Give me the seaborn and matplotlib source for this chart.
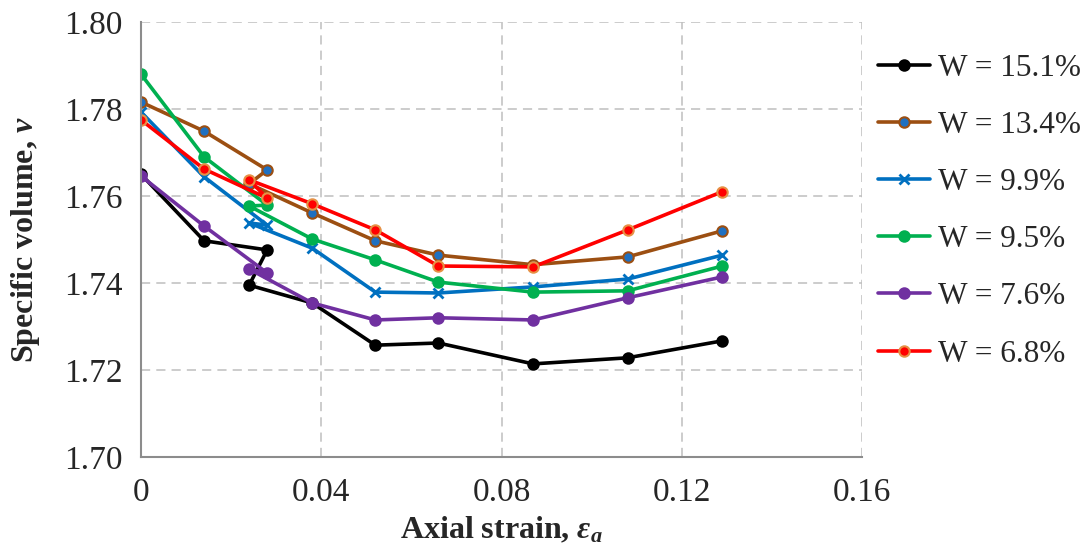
import matplotlib
matplotlib.use('Agg')
import matplotlib.pyplot as plt
import seaborn as sns
import pandas as pd

# ─── data ───────────────────────────────────────────────────────────────────
strain = [0, 0.014, 0.028, 0.024, 0.038, 0.052, 0.066, 0.087, 0.108, 0.129]

labels = ['W = 15.1%', 'W = 13.4%', 'W = 9.9%', 'W = 9.5%', 'W = 7.6%', 'W = 6.8%']

v_151 = [1.7650, 1.7497, 1.7476, 1.7395, 1.7354, 1.7257, 1.7262, 1.7214, 1.7228, 1.7267]
v_134 = [1.7816, 1.7749, 1.7660, 1.7628, 1.7561, 1.7497, 1.7464, 1.7442, 1.7460, 1.7520]
v_99  = [1.7793, 1.7644, 1.7533, 1.7538, 1.7480, 1.7379, 1.7377, 1.7391, 1.7409, 1.7464]
v_95  = [1.7880, 1.7690, 1.7579, 1.7577, 1.7501, 1.7453, 1.7402, 1.7379, 1.7382, 1.7439]
v_76  = [1.7646, 1.7531, 1.7423, 1.7432, 1.7354, 1.7315, 1.7320, 1.7315, 1.7366, 1.7414]
v_68  = [1.7775, 1.7662, 1.7595, 1.7637, 1.7582, 1.7522, 1.7439, 1.7437, 1.7522, 1.7610]

series = [v_151, v_134, v_99, v_95, v_76, v_68]

# style per series: line colour, marker, marker face, marker edge
styles = [
    ('#000000', 'o', '#000000', '#000000'),
    ('#9C4F12', 'o', '#1F70C1', '#9C4F12'),
    ('#0070C0', 'x', '#0070C0', '#0070C0'),
    ('#00B050', 'o', '#00B050', '#00B050'),
    ('#7030A0', 'o', '#7030A0', '#7030A0'),
    ('#FF0000', 'o', '#FF0000', '#E69145'),
]

df = pd.concat([pd.DataFrame({'strain': strain, 'v': s, 'W': lab, 'order': range(len(strain))})
                for s, lab in zip(series, labels)], ignore_index=True)

# ─── plot ───────────────────────────────────────────────────────────────────
sns.set_style('white')
plt.rcParams['font.family'] = ['Liberation Serif', 'DejaVu Serif']
plt.rcParams['mathtext.fontset'] = 'custom'
plt.rcParams['mathtext.rm'] = 'Liberation Serif:bold'
plt.rcParams['mathtext.it'] = 'Liberation Serif:italic:bold'
plt.rcParams['mathtext.bf'] = 'Liberation Serif:bold'

fig = plt.figure(figsize=(10.88, 5.6), dpi=100)
ax = fig.add_axes([0.1296, 0.184, 0.6627, 0.7767])

for lab, (col, mk, mfc, mec) in zip(labels, styles):
    d = df[df['W'] == lab].sort_values('order')
    sns.lineplot(data=d, x='strain', y='v', sort=False, estimator=None, ax=ax,
                 color=col, linewidth=2.6, marker=mk, markersize=7.5,
                 markerfacecolor=mfc, markeredgecolor=mec,
                 markeredgewidth=1.5 if mk == 'o' else 2.0, label=lab)

ax.set_xlim(0, 0.16)
ax.set_ylim(1.70, 1.80)
ax.set_xticks([0, 0.04, 0.08, 0.12, 0.16])
ax.set_xticklabels(['0', '0.04', '0.08', '0.12', '0.16'])
ax.set_yticks([1.70, 1.72, 1.74, 1.76, 1.78, 1.80])
ax.set_yticklabels(['1.70', '1.72', '1.74', '1.76', '1.78', '1.80'])
ax.tick_params(axis='y', labelsize=24, length=0, pad=13)
ax.tick_params(axis='x', labelsize=24, length=0, pad=15)

ax.grid(True, color='#BFBFBF', linestyle=(0, (6, 4)), linewidth=1.1)
for side in ['top', 'right']:
    ax.spines[side].set_visible(False)
for side in ['left', 'bottom']:
    ax.spines[side].set_color('#8C8C8C')
    ax.spines[side].set_linewidth(1.5)

ax.set_xlabel(r'Axial strain, $\varepsilon_a$', fontsize=23, fontweight='bold', labelpad=5)
ax.set_ylabel(r'Specific volume, $\nu$', fontsize=23, fontweight='bold', labelpad=16)

ax.legend(loc='center left', bbox_to_anchor=(1.022, 0.565), frameon=False, fontsize=22.5,
          handlelength=1.67, labelspacing=0.9, handletextpad=0.26,
          borderaxespad=0, borderpad=0)

fig.savefig('out.png', dpi=100)
